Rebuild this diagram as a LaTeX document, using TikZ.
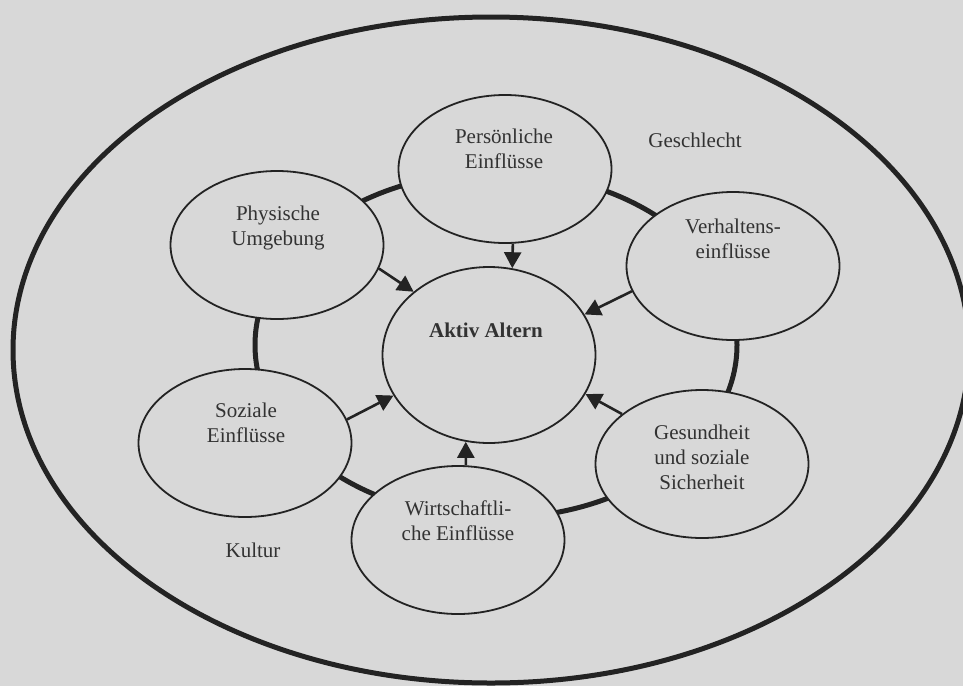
\documentclass[tikz,border=0pt]{standalone}
\usepackage{fontspec}
\setmainfont{Liberation Serif}
\usetikzlibrary{shapes.geometric,arrows.meta}
\definecolor{paper}{RGB}{216,216,216}
\definecolor{ink}{RGB}{35,35,35}
\definecolor{txtc}{RGB}{50,50,50}
\begin{document}
\begin{tikzpicture}[x=1pt,y=-1pt,
  oval/.style={ellipse,draw=ink,line width=1.8pt,fill=paper,inner sep=0pt,
    minimum width=213pt,minimum height=148pt},
  bigline/.style={ellipse,draw=ink,line width=5pt,inner sep=0pt},
  txt/.style={text=txtc,font=\fontsize{21}{25}\selectfont,align=center,inner sep=0pt},
  arr/.style={draw=ink,line width=2.6pt,-{Triangle[length=16pt,width=17pt]}}]
\fill[paper] (0,0) rectangle (963,686);
\useasboundingbox (0,0) rectangle (963,686);
% outer ellipse and ring
\node[bigline,minimum width=956pt,minimum height=666pt] (outer) at (491,350) {};
\node[bigline,minimum width=482pt,minimum height=346pt] (ring) at (496,345) {};
% surrounding ellipses
\node[oval] (pers) at (505,169) {};
\node[oval] (phys) at (277,245) {};
\node[oval] (verh) at (733,266) {};
\node[oval] (ges) at (702,464) {};
\node[oval] (soz) at (245,443) {};
\node[oval] (wirt) at (458,540) {};
\node[oval,minimum width=213pt,minimum height=176pt] (akt) at (489,355) {};
% texts
\node[txt] (perst) at (504,149) {Persönliche\\Einflüsse};
\node[txt] (physt) at (278,227.5) {Physische\\Umgebung};
\node[txt] (verht) at (733,239) {Verhaltens-\\einflüsse};
\node[txt] (gest) at (702,457) {Gesundheit\\und soziale\\Sicherheit};
\node[txt] (sozt) at (246,423) {Soziale\\Einflüsse};
\node[txt] (wirtt) at (458,521) {Wirtschaftli-\\che Einflüsse};
\node[txt,font=\fontsize{21}{25}\selectfont\bfseries] (aktt) at (486,330.5) {Aktiv Altern};
\node[txt] (geschlecht) at (695,140.5) {Geschlecht};
\node[txt] (kultur) at (253,550.5) {Kultur};
% arrows
\draw[arr] (pers.-84) -- (akt.75);
\draw[arr] (phys.-13) -- (akt.140);
\draw[arr] (verh.-166) -- (akt.23);
\draw[arr] (ges.148) -- (akt.-22);
\draw[arr] (wirt.84) -- (akt.-105);
\draw[arr] (soz.13) -- (akt.-157);
\end{tikzpicture}
\end{document}
